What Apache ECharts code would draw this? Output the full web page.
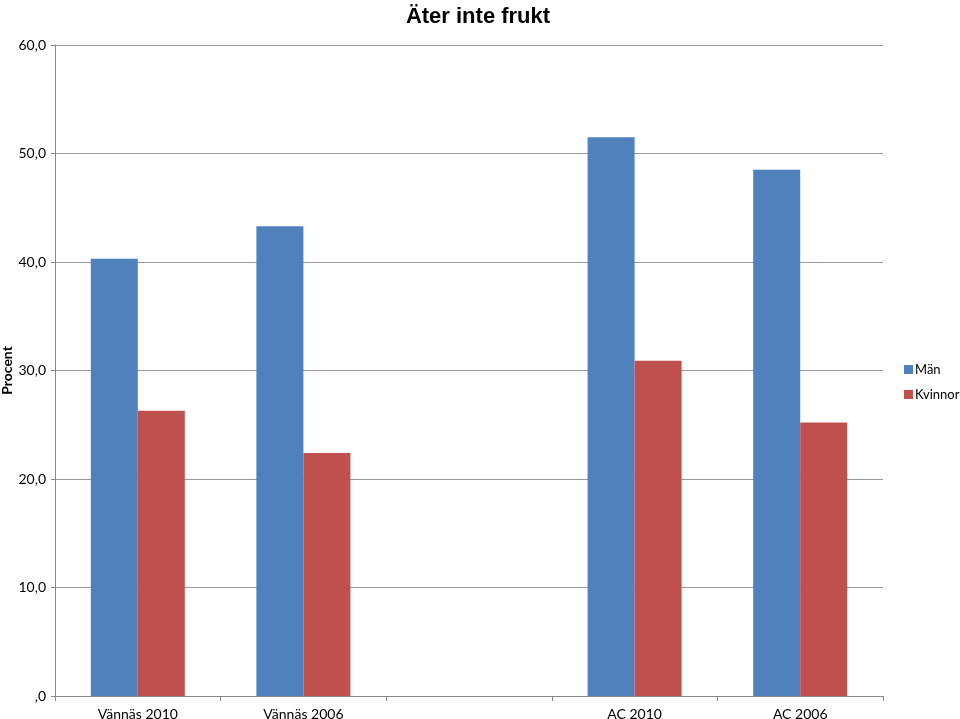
<!DOCTYPE html>
<html>
<head>
<meta charset="utf-8">
<script src="https://cdn.jsdelivr.net/npm/echarts@6/dist/echarts.min.js"></script>
<style>html,body{margin:0;padding:0;background:#fff;}#c{width:960px;height:719px;}</style>
</head>
<body>
<div id="c"></div>
<script>
var categories = ['Vännäs 2010', 'Vännäs 2006', '', 'AC 2010', 'AC 2006'];
var man = [40.3, 43.3, null, 51.5, 48.5];
var kvinnor = [26.3, 22.4, null, 30.9, 25.2];
var seriesNames = ['Män', 'Kvinnor'];

var chart = echarts.init(document.getElementById('c'));
var font = 'Lato, "Open Sans", sans-serif';
chart.setOption({
  animation: false,
  title: {
    text: 'Äter inte frukt', left: 473, top: 1, textAlign: 'center',
    textStyle: {fontFamily: '"Liberation Sans", Arial, sans-serif', fontSize: 22, fontWeight: 'bold', color: '#000'}
  },
  legend: {
    orient: 'vertical', left: 904, top: 363, itemWidth: 9, itemHeight: 9, itemGap: 12,
    icon: 'rect', padding: 0,
    textStyle: {fontFamily: font, fontSize: 13, color: '#000', width: 60, overflow: 'none', padding: [0, 0, 0, -3]},
    data: seriesNames
  },
  grid: {left: 55, right: 77, top: 45, bottom: 23, containLabel: false, outerBoundsMode: 'none'},
  xAxis: {
    type: 'category', data: categories,
    axisLine: {lineStyle: {color: '#888', width: 1}},
    axisTick: {show: true, length: 5, lineStyle: {color: '#888'}},
    axisLabel: {fontFamily: font, fontSize: 14, color: '#000', margin: 11}
  },
  yAxis: {
    type: 'value', min: 0, max: 60, interval: 10,
    name: 'Procent', nameLocation: 'middle', nameGap: 41, nameMoveOverlap: false,
    nameTextStyle: {fontFamily: font, fontSize: 14, fontWeight: 'bold', color: '#000'},
    axisLine: {show: true, lineStyle: {color: '#888'}},
    axisTick: {show: true, length: 4, lineStyle: {color: '#888'}},
    splitLine: {lineStyle: {color: '#999', width: 1}},
    axisLabel: {
      fontFamily: font, fontSize: 14, color: '#000', margin: 9,
      formatter: function (v) { return v === 0 ? ',0' : v.toFixed(1).replace('.', ','); }
    }
  },
  series: [
    {name: seriesNames[0], type: 'bar', data: man, barWidth: 47, barGap: '0%', itemStyle: {color: '#4F81BD'}},
    {name: seriesNames[1], type: 'bar', data: kvinnor, barWidth: 47, barGap: '0%', itemStyle: {color: '#C0504D'}}
  ]
});
</script>
</body>
</html>
